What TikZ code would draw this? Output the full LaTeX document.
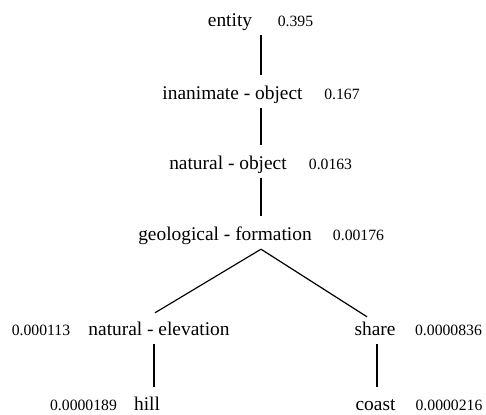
\documentclass[tikz,border=0pt]{standalone}
\usepackage{fontspec}
\setmainfont{Liberation Serif}
\tikzset{
  >=latex,
}
\tikzstyle{word}=[anchor=base,inner sep=0pt,text height=25pt,text depth=8pt,font=\fontsize{19.4}{23}\selectfont]
\tikzstyle{prob}=[anchor=base,inner sep=0pt,font=\fontsize{15.7}{19}\selectfont]
\tikzstyle{edge}=[line width=1.2pt]

\begin{document}
\begin{tikzpicture}[x=1pt,y=1pt]
    \useasboundingbox (0,0) rectangle (486,414);
    \coordinate (spine) at (261,0);
    \coordinate (lstem) at (154,0);
    \coordinate (rstem) at (377,0);
    % the chain
    \node[word] (entity) at (230,387) {entity};
    \node[prob] (p-entity) at (295.5,387) {0.395};
    \node[word] (inanimate) at (232.5,314) {inanimate - object};
    \node[prob] (p-inanimate) at (342,314) {0.167};
    \node[word] (natobj) at (228,244) {natural - object};
    \node[prob] (p-natobj) at (330.5,244) {0.0163};
    \node[word] (geo) at (225,173) {geological - formation};
    \node[prob] (p-geo) at (358.5,173) {0.00176};
    % the two branches
    \node[word] (natel) at (159,78) {natural - elevation};
    \node[prob] (p-natel) at (41,78) {0.000113};
    \node[word] (share) at (375,78) {share};
    \node[prob] (p-share) at (448.5,78) {0.0000836};
    \node[word] (hill) at (147,3.5) {hill};
    \node[prob] (p-hill) at (83.5,3.5) {0.0000189};
    \node[word] (coast) at (375.5,3.5) {coast};
    \node[prob] (p-coast) at (449,3.5) {0.0000216};
    \draw[edge] (entity.south -| spine) -- (inanimate.north -| spine);
    \draw[edge] (inanimate.south -| spine) -- (natobj.north -| spine);
    \draw[edge] (natobj.south -| spine) -- (geo.north -| spine);
    \draw[edge] (geo.south -| spine) -- ([xshift=-4pt,yshift=-2pt]natel.north);
    \draw[edge] (geo.south -| spine) -- ([xshift=-8pt,yshift=-6pt]share.north);
    \draw[edge] (natel.south -| lstem) -- ([yshift=-2pt]hill.north -| lstem);
    \draw[edge] (share.south -| rstem) -- ([yshift=-2pt]coast.north -| rstem);
\end{tikzpicture}
\end{document}
